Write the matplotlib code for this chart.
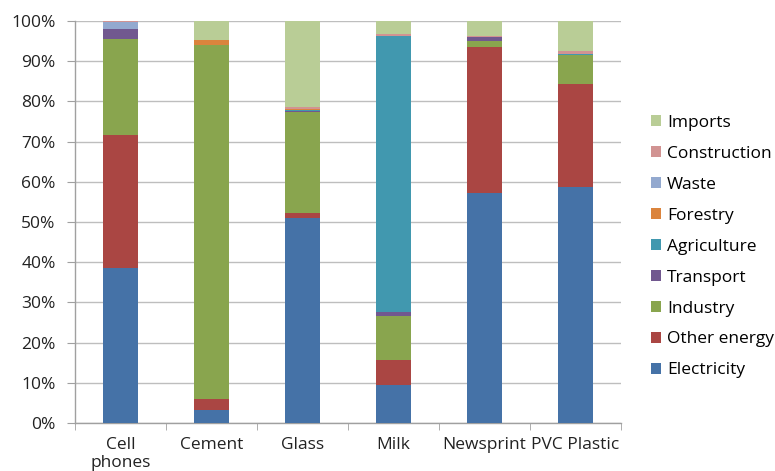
import matplotlib
matplotlib.use("Agg")
import matplotlib.pyplot as plt
from matplotlib.ticker import FixedLocator, PercentFormatter, NullFormatter

products = ["Cell\nphones", "Cement", "Glass", "Milk", "Newsprint", "PVC Plastic"]

# Share of each source, in percent, stacked from the bottom up
electricity  = [38.6,  3.2, 50.9,  9.5, 57.2, 58.7]
other_energy = [33.0,  2.7,  1.3,  6.1, 36.4, 25.7]
industry     = [23.9, 88.1, 25.1, 10.9,  1.4,  7.2]
transport    = [ 2.5,  0.0,  0.4,  1.1,  1.0,  0.0]
agriculture  = [ 0.0,  0.0,  0.1, 68.7,  0.0,  0.3]
forestry     = [ 0.0,  1.3,  0.3,  0.0,  0.0,  0.0]
waste        = [ 1.7,  0.0,  0.0,  0.0,  0.0,  0.0]
construction = [ 0.3,  0.0,  0.6,  0.5,  0.3,  0.6]
imports      = [ 0.0,  4.7, 21.3,  3.2,  3.7,  7.5]

series = [
    ("Electricity", electricity, "#4572A7"),
    ("Other energy", other_energy, "#AA4643"),
    ("Industry", industry, "#89A54E"),
    ("Transport", transport, "#71588F"),
    ("Agriculture", agriculture, "#4198AF"),
    ("Forestry", forestry, "#DB843D"),
    ("Waste", waste, "#93A9CF"),
    ("Construction", construction, "#D19392"),
    ("Imports", imports, "#B9CD96"),
]

plt.rcParams["font.family"] = ["Open Sans", "DejaVu Sans"]
FS = 12.5

fig = plt.figure(figsize=(7.75, 4.71), dpi=100)
ax = fig.add_axes([75 / 775, 1 - 423 / 471, (621 - 75) / 775, (423 - 21) / 471])

x = list(range(len(products)))
bottom = [0.0] * len(products)
handles = []
for name, vals, color in series:
    h = ax.bar(x, vals, width=0.39, bottom=bottom, color=color, label=name,
               edgecolor="none", zorder=3)
    handles.append(h)
    bottom = [b + v for b, v in zip(bottom, vals)]

ax.set_xlim(-0.5, len(products) - 0.5)
ax.set_ylim(0, 100)
ax.yaxis.set_major_locator(FixedLocator(range(0, 101, 10)))
ax.yaxis.set_major_formatter(PercentFormatter(decimals=0))
ax.yaxis.grid(True, color="#BEBEBE", linewidth=1.0, zorder=0)

ax.set_xticks(x)
ax.set_xticklabels(products, fontsize=FS, color="#222222", linespacing=1.2)
ax.tick_params(axis="x", which="major", length=0, pad=10)
ax.set_xticks([i - 0.5 for i in range(len(products) + 1)], minor=True)
ax.xaxis.set_minor_formatter(NullFormatter())
ax.tick_params(axis="x", which="minor", length=5, color="#A0A0A0", direction="out")
ax.tick_params(axis="y", length=6, color="#A0A0A0", direction="out",
               labelsize=FS, labelcolor="#222222", pad=8)

for side in ("top", "right"):
    ax.spines[side].set_visible(False)
for side in ("left", "bottom"):
    ax.spines[side].set_color("#A0A0A0")
    ax.spines[side].set_linewidth(1.0)

leg = fig.legend(handles[::-1], [s[0] for s in series][::-1],
                 loc="upper left", bbox_to_anchor=(644 / 775, 1 - 108 / 471),
                 frameon=False, fontsize=FS, handlelength=0.6, handleheight=0.6,
                 handletextpad=0.32, labelspacing=0.86, borderaxespad=0)

fig.savefig("out.png", dpi=100)
